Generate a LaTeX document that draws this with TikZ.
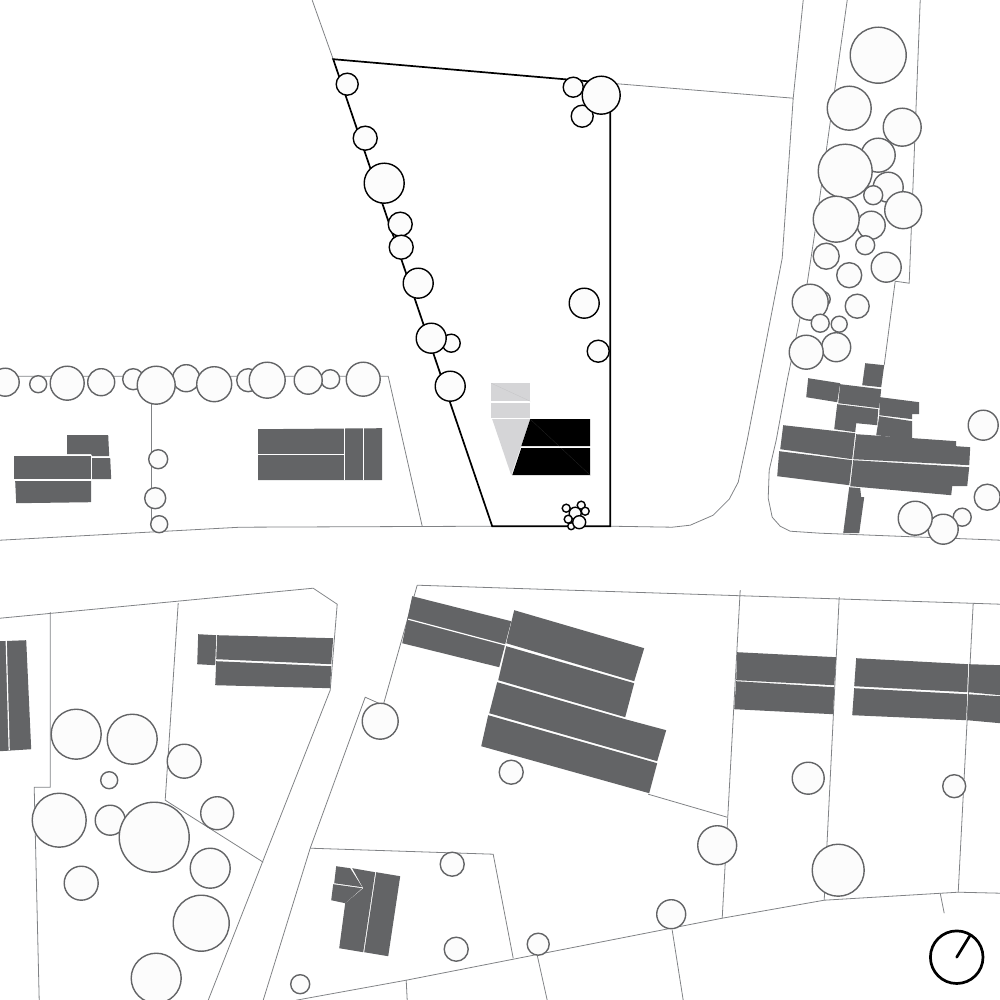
\documentclass[tikz,border=0pt]{standalone}
\definecolor{roofgrey}{HTML}{636466}
\definecolor{linegrey}{HTML}{808285}
\definecolor{newgrey}{HTML}{D5D5D7}
\definecolor{treefill}{HTML}{FCFCFC}
\tikzset{
    parcelline/.style={draw=linegrey,line width=0.8pt},
    siteline/.style={draw=black,line width=1.7pt,line join=miter},
    oldroof/.style={fill=roofgrey},
    newroof/.style={fill=black},
    oldshed/.style={fill=newgrey},
    oldtree/.style={draw=roofgrey,line width=1.4pt,fill=treefill},
    sitetree/.style={draw=black,line width=1.4pt,fill=treefill},
    ridge/.style={draw=white,line width=1.2pt},
    faintline/.style={line width=0.3pt},
}
\begin{document}
\begin{tikzpicture}[x=1pt,y=-1pt]
    \useasboundingbox (0,0) rectangle (1000,1000);
    \clip (0,0) rectangle (1000,1000);
    \begin{scope}[shift={(0.2,0.2)}]
    %% Parcels north of the road
    \draw[parcelline] (312,0) -- (333,59);
    \draw[parcelline] (610,83) -- (793,98);
    \draw[parcelline] (803,0) -- (793,98) -- (782,258) -- (747,440) -- (738,482) -- (729,499) -- (713,515) -- (690,525) -- (672,527) -- (610,526);
    \draw[parcelline] (492,526) -- (240,527) -- (0,540);
    \draw[parcelline] (847,0) -- (815,230) -- (807,283) -- (787,380) -- (776,440) -- (769,470) -- (768,498) -- (772,517) -- (780,526) -- (790,531) -- (820,533) -- (1000,540);
    \draw[parcelline] (920,0) -- (909,283) -- (895,281) -- (884,365);
    \draw[parcelline] (0,376) -- (388,376) -- (422,526);
    \draw[parcelline] (151,378) -- (151,527);
    %% Parcels south of the road
    \draw[parcelline] (0,618) -- (313,588) -- (337,604) -- (330,690) -- (263,860) -- (208,1000);
    \draw[parcelline] (417,585) -- (1000,604);
    \draw[parcelline] (417,585) -- (383,705) -- (365,697) -- (310,848) -- (263,1000);
    \draw[parcelline] (310,848) -- (493,854) -- (513,958);
    \draw[parcelline] (50,612) -- (50,787) -- (34,787) -- (39,1000);
    \draw[parcelline] (178,603) -- (165,800) -- (263,862);
    \draw[parcelline] (740,590) -- (722,918);
    \draw[parcelline] (839,597) -- (824,900);
    \draw[parcelline] (973,603) -- (958,892);
    \draw[parcelline] (648,794) -- (727,817);
    \draw[parcelline] (296,1000) -- (406,980) -- (722,918) -- (824,900) -- (958,892) -- (1000,893);
    \draw[parcelline] (406,980) -- (407,1000);
    \draw[parcelline] (537,955) -- (547,1000);
    \draw[parcelline] (672,930) -- (683,1000);
    \draw[parcelline] (940,893) -- (944,913);
    %% Site
    \draw[siteline] (333,59) -- (610,83) -- (610,526) -- (492,526) -- cycle;
    %% Trees
    \foreach \cx/\cy/\cr in {878/55/28,849/108/22,902/127/19,878/155/17,888/187/15,845/171/27,873/195/9.5,903/210/18.5,
        871/225/14,836/219/23,865/245/9.5,826/256/13,849/275/12.5,886/267/15,822/299/8,810/302/18,857/306/12,820/323/9,839/324/8,
        836/347/14.5,806/352/17,
        5/382/14,38/384/8.5,67/383/17,101/382/13.5,133/379/10.5,186/378/13.5,156/385/19,248/380/11.5,214/384/17.5,267/380/18,
        330/379/9.5,308/380/14,363/379/17,158/459/9.5,155/498/10.5,159/524/8.5,
        983/425/15,987/497/13,962/517/9,943/529/15,915/518/17,
        380/721/18,511/772/12,76/734/25,132/739/25,109/780/8.5,184/761/17,59/820/27,110/820/15,217/813/16.5,154/837/35,
        210/868/20,81/883/17,201/923/28,156/978/25,808/778/16,954/786/11.5,717/845/19.5,838/870/26,671/914/14.5,
        452/864/12,456/949/12,538/944/11,300/984/9.5}
        \draw[oldtree] (\cx,\cy) circle[radius=\cr];
    \foreach \cx/\cy/\cr in {347/84/11,365/138/12,384/183/20,400/224/12,401/247/12,418/283/15,451/343/9,431/338/15,450/386/15,
        573/87/10,582/116/11,601/95/19,584/303/15,598/351/11,
        566/508/4,581/505/4,585/511/4,575/513/6,568/519/4,571/526/3.5,579/522/6.5}
        \draw[sitetree] (\cx,\cy) circle[radius=\cr];
    %% New house
    \fill[oldshed] (491,383) -- (530,383) -- (530,401) -- (491,401) -- cycle;
    \fill[oldshed] (491,403) -- (530,403) -- (530,418) -- (491,418) -- cycle;
    \fill[oldshed] (492,419) -- (530,419) -- (511,475) -- cycle;
    \draw[faintline,draw=newgrey!92!black] (491,383) -- (530,401);
    \fill[newroof] (530,419) -- (590,419) -- (590,446) -- (521,446) -- cycle;
    \fill[newroof] (521,448) -- (590,448) -- (590,475) -- (512,475) -- cycle;
    \draw[faintline,draw=black!85] (530,419) -- (559,446);
    \draw[faintline,draw=black!85] (561,448) -- (590,475);
    %% Neighbours, north west
    \fill[oldroof] (67,435) -- (108,435) -- (109,456) -- (92,456) -- (91,454) -- (67,454) -- cycle;
    \fill[oldroof] (92,458) -- (110,458) -- (111,479) -- (92,479) -- cycle;
    \fill[oldroof] (14,456) -- (91,456) -- (91,479) -- (14,479) -- cycle;
    \fill[oldroof] (15,481) -- (91,481) -- (91,502) -- (16,503) -- cycle;
    \fill[oldroof] (258,429) -- (382,428) -- (382,480) -- (258,480) -- cycle;
    \draw[ridge] (258,454) -- (344,454);
    \draw[ridge] (344,428) -- (344,480);
    \draw[ridge] (363,428) -- (363,480);
    %% Neighbours, north east
    \fill[oldroof] (808,378) -- (840,383) -- (837,402) -- (806,397) -- cycle;
    \fill[oldroof] (840,384) -- (881,389) -- (879,408) -- (838,403) -- cycle;
    \fill[oldroof] (865,363) -- (884,365) -- (881,387) -- (862,385) -- cycle;
    \fill[oldroof] (837,404) -- (878,409) -- (877,425) -- (856,423) -- (855,432) -- (834,429) -- cycle;
    \fill[oldroof] (880,397) -- (919,402) -- (919,414) -- (912,414) -- (912,419) -- (879,415) -- cycle;
    \fill[oldroof] (879,416) -- (912,421) -- (912,439) -- (876,435) -- cycle;
    \fill[oldroof] (783,425) -- (855,433) -- (852,459) -- (780,449) -- cycle;
    \fill[oldroof] (779,451) -- (852,460) -- (849,485) -- (777,476) -- cycle;
    \fill[oldroof] (856,434) -- (956,441) -- (956,446) -- (970,447) -- (969,465) -- (853,459) -- cycle;
    \fill[oldroof] (853,460) -- (969,467) -- (967,486) -- (952,486) -- (951,495) -- (850,486) -- cycle;
    \fill[oldroof] (849,487) -- (860,488) -- (861,497) -- (864,497) -- (859,533) -- (843,533) -- cycle;
    %% Neighbours, south
    \fill[oldroof] (0,641) -- (26,640) -- (31,749) -- (0,751) -- cycle;
    \draw[ridge] (6,640) -- (9,750);
    \fill[oldroof] (198,634) -- (216,635) -- (215,665) -- (197,664) -- cycle;
    \fill[oldroof] (217,635) -- (333,638) -- (331,664) -- (216,659) -- cycle;
    \fill[oldroof] (216,661) -- (331,666) -- (330,688) -- (215,685) -- cycle;
    \fill[oldroof] (412,596) -- (511,621) -- (499,667) -- (402,643) -- cycle;
    \draw[ridge] (408,619) -- (506,645);
    \fill[oldroof] (514,610) -- (644,648) -- (634,681) -- (506,643) -- cycle;
    \fill[oldroof] (506,646) -- (634,683) -- (625,717) -- (498,680) -- cycle;
    \fill[oldroof] (497,682) -- (625,719) -- (666,730) -- (657,761) -- (489,713) -- cycle;
    \fill[oldroof] (488,715) -- (657,763) -- (649,793) -- (481,746) -- cycle;
    \fill[oldroof] (737,652) -- (836,657) -- (834,685) -- (736,680) -- cycle;
    \fill[oldroof] (736,681) -- (834,687) -- (833,714) -- (734,709) -- cycle;
    \fill[oldroof] (856,658) -- (968,664) -- (967,692) -- (854,686) -- cycle;
    \fill[oldroof] (969,664) -- (1000,665) -- (1000,695) -- (968,692) -- cycle;
    \fill[oldroof] (854,688) -- (967,694) -- (966,720) -- (852,715) -- cycle;
    \fill[oldroof] (968,694) -- (1000,696) -- (1000,723) -- (967,720) -- cycle;
    \fill[oldroof] (336,866) -- (350,868) -- (362,887) -- (334,883) -- cycle;
    \fill[oldroof] (333,884) -- (362,888) -- (345,903) -- (331,900) -- cycle;
    \fill[oldroof] (352,868) -- (375,872) -- (363,952) -- (339,948) -- (345,903) -- (363,888) -- cycle;
    \fill[oldroof] (376,872) -- (400,876) -- (388,956) -- (364,952) -- cycle;
    %% North
    \draw[black,line width=2.7pt] (956.5,957) circle[radius=26.3];
    \draw[black,line width=2.7pt,line cap=round] (956.5,957) -- (970,935);
    \end{scope}
\end{tikzpicture}
\end{document}
